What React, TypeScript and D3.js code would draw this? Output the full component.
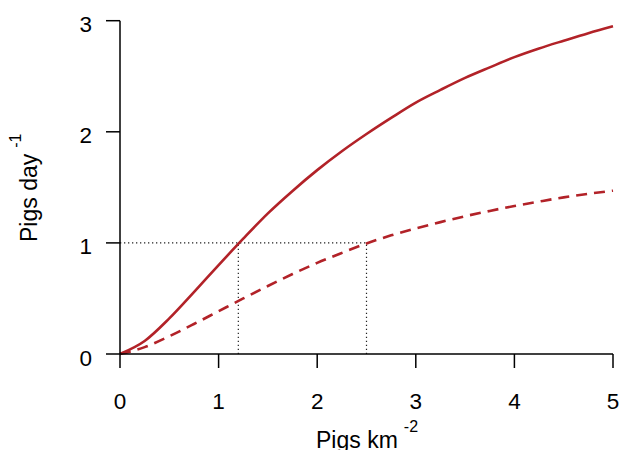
import React from "react";
import * as d3 from "d3";

const density = [0, 0.25, 0.5, 0.75, 1, 1.25, 1.5, 1.75, 2, 2.25, 2.5, 2.75, 3, 3.25, 3.5, 3.75, 4, 4.25, 4.5, 4.75, 5];
const solidRate = [0, 0.117, 0.32, 0.557, 0.8, 1.038, 1.266, 1.468, 1.655, 1.825, 1.98, 2.125, 2.263, 2.377, 2.485, 2.58, 2.672, 2.75, 2.82, 2.888, 2.95];
const dashedRate = [0, 0.062, 0.16, 0.27, 0.385, 0.5, 0.612, 0.72, 0.82, 0.91, 0.995, 1.068, 1.13, 1.187, 1.24, 1.288, 1.332, 1.372, 1.41, 1.442, 1.47];
const refX = [1.2, 2.5];
const refY = 1;
const xTicks = [0, 1, 2, 3, 4, 5];
const yTicks = [0, 1, 2, 3];

const RED = "#B22228";
const FONT = "'Liberation Sans', Arial, sans-serif";

export default function App() {
  const x = d3.scaleLinear().domain([0, 5]).range([120, 613]);
  const y = d3.scaleLinear().domain([0, 3]).range([354, 20.7]);
  const line = d3
    .line<number>()
    .x((_, i) => x(density[i]))
    .y((d) => y(d))
    .curve(d3.curveMonotoneX);

  return (
    <svg width={619} height={450} style={{ position: "absolute", left: 0, top: 0 }} fontFamily={FONT}>
      {/* reference dotted lines */}
      <line x1={x(0)} x2={x(d3.max(refX) as number)} y1={y(refY)} y2={y(refY)} stroke="#222" strokeWidth={1.2} strokeDasharray="1.3,2.7" />
      {refX.map((r) => (
        <line key={r} x1={x(r)} x2={x(r)} y1={y(0)} y2={y(refY)} stroke="#222" strokeWidth={1.2} strokeDasharray="1.3,2.7" />
      ))}
      {/* curves */}
      <path d={line(solidRate) || ""} fill="none" stroke={RED} strokeWidth={2.6} />
      <path d={line(dashedRate) || ""} fill="none" stroke={RED} strokeWidth={2.6} strokeDasharray="11,7" />
      {/* y axis */}
      <line x1={120} x2={120} y1={y(3)} y2={y(0)} stroke="#000" strokeWidth={1.5} />
      {yTicks.map((t) => (
        <g key={t}>
          <line x1={106} x2={120} y1={y(t)} y2={y(t)} stroke="#000" strokeWidth={1.5} />
          <text x={92} y={y(t) + 11.5} textAnchor="end" fontSize={22.5}>
            {t}
          </text>
        </g>
      ))}
      {/* x axis */}
      <line x1={x(0)} x2={x(5)} y1={354} y2={354} stroke="#000" strokeWidth={1.5} />
      {xTicks.map((t) => (
        <g key={t}>
          <line x1={x(t)} x2={x(t)} y1={354} y2={368} stroke="#000" strokeWidth={1.5} />
          <text x={x(t)} y={409} textAnchor="middle" fontSize={22.5}>
            {t}
          </text>
        </g>
      ))}
      {/* axis titles */}
      <text x={316} y={448} fontSize={23}>
        Pigs km
        <tspan dx={6} dy={-16} fontSize={16}>-2</tspan>
      </text>
      <text transform="translate(37,242) rotate(-90)" fontSize={23}>
        Pigs day
        <tspan dx={6} dy={-16} fontSize={16}>-1</tspan>
      </text>
    </svg>
  );
}
